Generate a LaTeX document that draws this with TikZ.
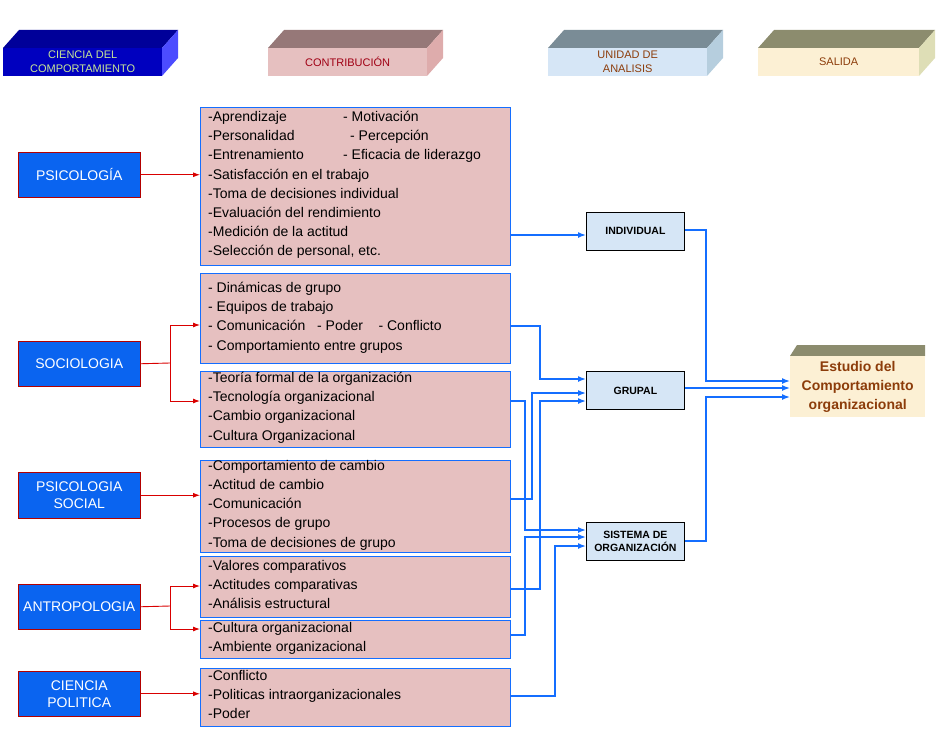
\documentclass[tikz,border=0pt]{standalone}
\usepackage{fontspec}
\setmainfont{Liberation Sans}
\usetikzlibrary{arrows.meta,calc}
\definecolor{pinkf}{RGB}{230,192,192}
\definecolor{bblue}{RGB}{20,110,255}
\definecolor{lblue}{RGB}{10,100,240}
\definecolor{unitf}{RGB}{214,230,246}
\definecolor{brownt}{RGB}{140,60,10}
\definecolor{contt}{RGB}{160,0,20}
\definecolor{ciencit}{RGB}{200,230,150}
\definecolor{c2t}{RGB}{150,120,120}\definecolor{c2s}{RGB}{222,172,172}
\definecolor{c3t}{RGB}{122,140,150}\definecolor{c3s}{RGB}{182,206,222}
\definecolor{c4t}{RGB}{140,140,110}\definecolor{c4s}{RGB}{222,222,182}\definecolor{c4f}{RGB}{252,240,212}
\begin{document}
\begin{tikzpicture}[x=1pt,y=-1pt,
  contrib/.style={draw=bblue,line width=0.8pt,fill=pinkf,inner sep=0},
  ctext/.style={anchor=north west,inner sep=0,align=left,font=\fontsize{14}{19.2}\selectfont},
  disc/.style={draw=red!70!black,line width=0.5pt,fill=lblue,text=white,inner sep=0,align=center,font=\fontsize{14}{17}\selectfont},
  unit/.style={draw=black,line width=0.8pt,fill=unitf,inner sep=0,align=center,font=\bfseries\fontsize{10.5}{13}\selectfont},
  barrow/.style={draw=bblue,line width=1.5pt,-{Latex[length=8pt,width=6pt]}},
  rarrow/.style={draw=red!85!black,line width=0.9pt,-{Latex[length=7pt,width=5pt]}},
  rline/.style={draw=red!85!black,line width=0.9pt}]
\useasboundingbox (0,0) rectangle (936,752);
% header 3D boxes
\fill[blue!60!black] (3,48) -- (19,30) -- (178,30) -- (162,48) -- cycle;
\fill[blue!70] (162,48) -- (178,30) -- (178,58) -- (162,76) -- cycle;
\node[fill=blue!75!black,minimum width=159,minimum height=28,inner sep=0,anchor=north west] (h1) at (3,48) {};
\node[text=ciencit,align=center,font=\fontsize{11}{14}\selectfont] at (h1) {CIENCIA DEL\\COMPORTAMIENTO};
\fill[c2t] (268,48) -- (284,30) -- (443,30) -- (427,48) -- cycle;
\fill[c2s] (427,48) -- (443,30) -- (443,58) -- (427,76) -- cycle;
\node[fill=pinkf,minimum width=159,minimum height=28,inner sep=0,anchor=north west] (h2) at (268,48) {};
\node[text=contt,font=\fontsize{11}{14}\selectfont] at (h2) {CONTRIBUCIÓN};
\fill[c3t] (548,48) -- (564,30) -- (723,30) -- (707,48) -- cycle;
\fill[c3s] (707,48) -- (723,30) -- (723,58) -- (707,76) -- cycle;
\node[fill=unitf,minimum width=159,minimum height=28,inner sep=0,anchor=north west] (h3) at (548,48) {};
\node[text=brownt,align=center,font=\fontsize{11}{14}\selectfont] at (h3) {UNIDAD DE\\ANALISIS};
\fill[c4t] (758,48) -- (774,30) -- (935,30) -- (919,48) -- cycle;
\fill[c4s] (919,48) -- (935,30) -- (935,58) -- (919,76) -- cycle;
\node[fill=c4f,minimum width=161,minimum height=28,inner sep=0,anchor=north west] (h4) at (758,48) {};
\node[text=brownt,font=\fontsize{11}{14}\selectfont] at (h4) {SALIDA};
% contribution boxes
\node[contrib,minimum width=310,minimum height=158,anchor=north west] (c1) at (200,107) {};
\node[contrib,minimum width=310,minimum height=90,anchor=north west] (c2) at (200,273) {};
\node[contrib,minimum width=310,minimum height=76,anchor=north west] (c3) at (200,371) {};
\node[contrib,minimum width=310,minimum height=92,anchor=north west] (c4) at (200,460) {};
\node[contrib,minimum width=310,minimum height=61,anchor=north west] (c5) at (200,556) {};
\node[contrib,minimum width=310,minimum height=38,anchor=north west] (c6) at (200,620) {};
\node[contrib,minimum width=310,minimum height=58,anchor=north west] (c7) at (200,668) {};
\node[ctext] (t1) at (208,111) {\makebox[135pt][l]{-Aprendizaje}- Motivación\\\makebox[142pt][l]{-Personalidad}- Percepción\\\makebox[135pt][l]{-Entrenamiento}- Eficacia de liderazgo\\-Satisfacción en el trabajo\\-Toma de decisiones individual\\-Evaluación del rendimiento\\-Medición de la actitud\\-Selección de personal, etc.};
\node[ctext] (t2) at (208,282) {- Dinámicas de grupo\\- Equipos de trabajo\\- Comunicación \ \ - Poder \ \ \ - Conflicto\\- Comportamiento entre grupos};
\node[ctext] (t3) at (208,372) {-Teoría formal de la organización\\-Tecnología organizacional\\-Cambio organizacional\\-Cultura Organizacional};
\node[ctext] (t4) at (208,460) {-Comportamiento de cambio\\-Actitud de cambio\\-Comunicación\\-Procesos de grupo\\-Toma de decisiones de grupo};
\node[ctext] (t5) at (208,560) {-Valores comparativos\\-Actitudes comparativas\\-Análisis estructural};
\node[ctext] (t6) at (208,622) {-Cultura organizacional\\-Ambiente organizacional};
\node[ctext] (t7) at (208,670) {-Conflicto\\-Politicas intraorganizacionales\\-Poder};
% disciplines
\node[disc,minimum width=122,minimum height=45,anchor=north west] (d1) at (18,152) {PSICOLOGÍA};
\node[disc,minimum width=122,minimum height=45,anchor=north west] (d2) at (18,341) {SOCIOLOGIA};
\node[disc,minimum width=122,minimum height=46,anchor=north west] (d3) at (18,472) {PSICOLOGIA\\SOCIAL};
\node[disc,minimum width=122,minimum height=45,anchor=north west] (d4) at (18,584) {ANTROPOLOGIA};
\node[disc,minimum width=122,minimum height=45,anchor=north west] (d5) at (18,671) {CIENCIA\\POLITICA};
% units
\node[unit,minimum width=98,minimum height=38,anchor=north west] (ind) at (586,212) {INDIVIDUAL};
\node[unit,minimum width=98,minimum height=38,anchor=north west] (grp) at (586,371) {GRUPAL};
\node[unit,minimum width=98,minimum height=38,anchor=north west] (sis) at (586,522) {SISTEMA DE\\ORGANIZACIÓN};
% output
\fill[c4t] (790,356) -- (797,345) -- (925,345) -- (925,356) -- cycle;
\node[fill=c4f,minimum width=135,minimum height=61,inner sep=0,anchor=north west] (out) at (790,356) {};
\node[text=brownt,align=center,font=\bfseries\fontsize{14}{19}\selectfont] at (out) {Estudio del\\Comportamiento\\organizacional};
% red arrows
\draw[rarrow] (d1.east) -- (c1.west |- d1.east);
\draw[rline] (d2.east) -- (170,363);
\draw[rarrow] (170,401) |- (c2.west |- 0,325);
\draw[rarrow] (170,325) |- (c3.west |- 0,401);
\draw[rarrow] (d3.east) -- (c4.west |- d3.east);
\draw[rline] (d4.east) -- (170,606);
\draw[rarrow] (170,629) |- (c5.west |- 0,586);
\draw[rarrow] (170,586) |- (c6.west |- 0,629);
\draw[rarrow] (d5.east) -- (c7.west |- d5.east);
% blue arrows
\draw[barrow] (c1.east |- 0,235) -- (ind.west |- 0,235);
\draw[barrow] (c2.east |- 0,326) -| (540,379) -- (grp.west |- 0,379);
\draw[barrow] (c3.east |- 0,401) -| (525,530) -- (sis.west |- 0,530);
\draw[barrow] (c4.east |- 0,499) -| (532,393) -- (grp.west |- 0,393);
\draw[barrow] (c5.east |- 0,589) -| (540,401) -- (grp.west |- 0,401);
\draw[barrow] (c6.east |- 0,635) -| (525,537) -- (sis.west |- 0,537);
\draw[barrow] (c7.east |- 0,696) -| (555,546) -- (sis.west |- 0,546);
\draw[barrow] (ind.east |- 0,230) -| (706,381) -- (out.west |- 0,381);
\draw[barrow] (grp.east |- 0,388) -- (out.west |- 0,388);
\draw[barrow] (sis.east |- 0,541) -| (706,397) -- (out.west |- 0,397);
\end{tikzpicture}
\end{document}
